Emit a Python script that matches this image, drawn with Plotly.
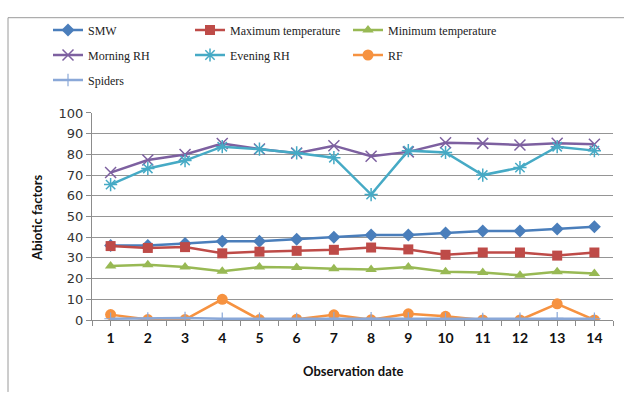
import plotly.graph_objects as go

# Observation dates (categories) and measured factors
dates = list(range(1, 15))
smw = [36, 36, 37, 38, 38, 39, 40, 41, 41, 42, 43, 43, 44, 45]
max_temp = [35.7, 34.8, 35.2, 32.2, 33.0, 33.4, 33.9, 35.0, 34.1, 31.5, 32.6, 32.6, 31.1, 32.6]
min_temp = [26.1, 26.7, 25.6, 23.6, 25.6, 25.4, 24.7, 24.4, 25.6, 23.3, 22.9, 21.6, 23.3, 22.5]
morning_rh = [71.2, 77.3, 79.9, 85.2, 82.6, 80.6, 84.2, 79.1, 81.2, 85.6, 85.3, 84.5, 85.4, 84.9]
evening_rh = [65.4, 73.2, 77.0, 83.7, 82.5, 80.7, 78.4, 60.6, 81.8, 80.9, 70.0, 73.6, 83.7, 81.8]
rf = [2.6, 0.2, 0.2, 10.0, 0.2, 0.4, 2.5, 0.1, 3.0, 1.8, 0.0, 0.0, 7.8, 0.0]
spiders = [0.6, 0.7, 1.0, 0.6, 0.6, 0.5, 0.8, 0.8, 0.7, 0.6, 0.5, 0.6, 0.8, 0.6]

y_ticks = list(range(0, 101, 10))

series = [
    ("SMW", smw, "#4A7EBB", dict(symbol="diamond", size=10)),
    ("Maximum temperature", max_temp, "#BE4B48", dict(symbol="square", size=10)),
    ("Minimum temperature", min_temp, "#98B954", dict(symbol="triangle-up", size=10)),
    ("Morning RH", morning_rh, "#7D60A0", dict(symbol="x-thin-open", size=11,
                                                  line=dict(width=1.5, color="#9B86B8"))),
    ("Evening RH", evening_rh, "#46AAC5", dict(symbol="asterisk-open", size=11,
                                                 line=dict(width=1.5, color="#5CB6CF"))),
    ("RF", rf, "#F69240", dict(symbol="circle", size=11)),
    ("Spiders", spiders, "#8AA8D8", dict(symbol="cross-thin-open", size=9,
                                          line=dict(width=1.2, color="#8AA8D8"))),
]

W, H = 624, 394
L, R, T, B = 92, 11, 107, 74

# legend grid: three columns, three rows (pixel anchors)
col_x = [48, 190, 348]
row_y = [30, 55, 80]

fig = go.Figure()
legends = {}
for i, (name, vals, color, marker) in enumerate(series):
    m = dict(color=color)
    m.update(marker)
    key = "legend" if i == 0 else f"legend{i + 1}"
    fig.add_trace(go.Scatter(
        x=dates, y=vals, name=name, mode="lines+markers",
        line=dict(color=color, width=2.5), marker=m, legend=key,
        showlegend=True,
    ))
    legends[key] = dict(
        orientation="h", xref="container", yref="container",
        xanchor="left", yanchor="middle",
        x=col_x[i % 3] / W, y=1 - row_y[i // 3] / H,
        font=dict(family="Liberation Serif", size=12, color="#222"),
        bgcolor="rgba(0,0,0,0)", itemwidth=30,
    )

fig.update_layout(
    width=W, height=H,
    margin=dict(l=L, r=R, t=T, b=B),
    paper_bgcolor="white", plot_bgcolor="white",
    showlegend=True,
    **legends,
    xaxis=dict(
        range=[0.5, 14.5], tickvals=dates, ticktext=[str(d) for d in dates],
        showgrid=False, showline=True, linecolor="#8c8c8c", linewidth=1,
        ticks="outside", ticklen=5, tickcolor="#8c8c8c",
        minor=dict(tick0=0.5, dtick=1, ticks="outside", ticklen=5, tickcolor="#8c8c8c", showgrid=False),
        tickfont=dict(family="Lato", size=14, color="#111", weight="bold"),
        zeroline=False,
    ),
    yaxis=dict(
        range=[0, 100], tickvals=y_ticks,
        showgrid=True, gridcolor="#959595", gridwidth=1,
        showline=True, linecolor="#8c8c8c", linewidth=1,
        ticks="outside", ticklen=5, tickcolor="#8c8c8c",
        tickfont=dict(family="DejaVu Sans", size=13, color="#333"),
        zeroline=False,
    ),
    annotations=[
        dict(text="Observation date", xref="paper", yref="paper",
             x=0.5 + (353 - (L + (W - L - R) / 2)) / (W - L - R),
             y=(H - B - 372) / (H - T - B), showarrow=False,
             font=dict(family="Lato", size=13, color="#111", weight="bold"),
             xanchor="center", yanchor="middle"),
        dict(text="Abiotic factors", xref="paper", yref="paper",
             x=(37 - L) / (W - L - R), y=(H - B - 215) / (H - T - B),
             textangle=-90, showarrow=False,
             font=dict(family="Lato", size=13, color="#111", weight="bold"),
             xanchor="center", yanchor="middle"),
    ],
    shapes=[
        dict(type="line", xref="paper", yref="paper",
             x0=(8 - L) / (W - L - R), x1=(W - L) / (W - L - R),
             y0=(H - B - 9) / (H - T - B), y1=(H - B - 9) / (H - T - B),
             line=dict(color="#9a9a9a", width=1)),
        dict(type="line", xref="paper", yref="paper",
             x0=(8 - L) / (W - L - R), x1=(8 - L) / (W - L - R),
             y0=(H - B - 9) / (H - T - B), y1=(H - B - H) / (H - T - B),
             line=dict(color="#9a9a9a", width=1)),
    ],
)

fig.write_html("out.html")
